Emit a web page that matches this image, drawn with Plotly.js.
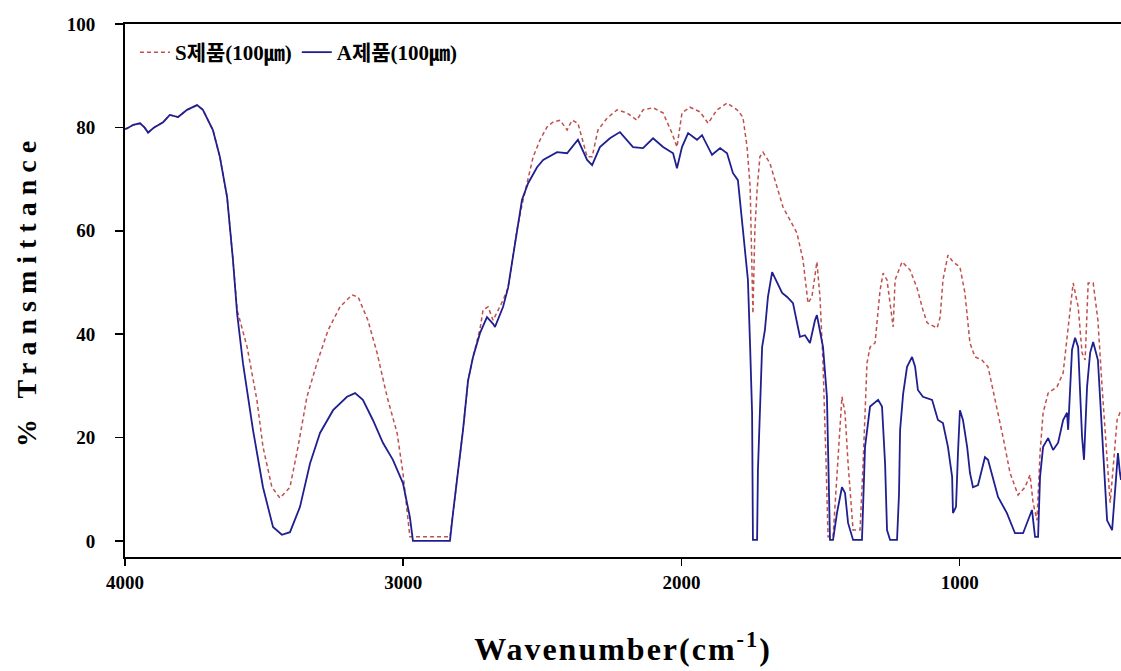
<!DOCTYPE html>
<html>
<head>
<meta charset="utf-8">
<script src="https://cdn.plot.ly/plotly-3.0.1.min.js"></script>
<style>
  html, body { margin: 0; padding: 0; background: #fff; }
  #chart { width: 1121px; height: 671px; }
  .ytitle { letter-spacing: 7px; }
  .xtitle { letter-spacing: 2px; }
</style>
</head>
<body>
<div id="chart"></div>
<script>
// Series A (blue, solid): wavenumber (cm-1) and % transmittance
const waveA = [4000,3993,3970,3946,3930,3917,3895,3863,3839,3809,3777,3741,3720,3684,3659,3633,3612,3597,3576,3540,3504,3468,3436,3407,3371,3335,3299,3252,3202,3173,3145,3109,3073,3037,3001,2976,2965,2832,2821,2785,2767,2749,2724,2699,2677,2670,2641,2623,2609,2591,2573,2551,2519,2497,2447,2411,2372,2339,2321,2293,2257,2221,2174,2138,2102,2066,2030,2016,1998,1976,1944,1926,1890,1861,1836,1815,1797,1779,1764,1761,1753,1746,1743,1728,1725,1710,1700,1689,1674,1656,1638,1620,1599,1574,1556,1538,1520,1513,1502,1491,1477,1473,1466,1455,1441,1423,1412,1401,1383,1351,1340,1322,1293,1279,1268,1261,1250,1225,1218,1214,1203,1189,1171,1160,1150,1132,1099,1078,1060,1042,1027,1024,1013,1006,999,988,973,963,952,934,909,898,880,862,830,801,772,754,740,729,718,711,700,682,664,646,628,614,610,596,585,574,560,553,542,531,520,503,488,470,452,441,431,424,420];
const transA = [79.7,79.8,80.5,80.8,80,79,80,81,82.4,82,83.4,84.3,83.4,79.5,74.3,66.5,54.4,44,34.4,21.5,10.4,2.7,1.2,1.7,6.6,15,20.9,25.3,27.9,28.6,27.3,23.4,19,15.7,11.2,4.6,0,0,5.4,21.5,31,35.6,40.2,43.3,42,41.4,45.3,49,53.8,60.2,66,69.2,72.3,73.7,75.2,75,77.6,73.7,72.7,76.2,77.9,79.1,76.2,76,77.9,76.2,75,72.1,76.2,78.9,77.6,78.5,74.7,76,75,71.2,69.8,60.2,51,50.5,37.5,24.8,0.2,0.2,13.7,37.5,40.8,47.2,52,49.9,48,47.2,46,39.5,39.8,38.3,42.7,43.7,40.8,37.5,27.9,15,0.2,0.2,5.4,10.4,9.3,3.5,0.2,0.2,18.2,26,27.3,26,15,2.1,0.2,0.2,9,21.5,28.5,33.7,35.6,33.7,29.2,27.9,27.3,23.4,22.8,18.2,12.4,5.4,6.6,17,25.3,23.4,18.2,13.2,10.4,10.8,16.2,15.7,11.8,8.5,5.4,1.5,1.5,4,6,0.8,0.8,12.4,18.2,19.9,17.6,19,23.4,24.8,21.5,37,39.3,37.5,20.1,15.7,29.8,36.4,38.5,35,20.9,4,2.1,10.4,17,13.2,11.8];

// Series S (red, dashed)
const waveS = [4000,3993,3970,3946,3930,3917,3895,3863,3839,3809,3777,3741,3720,3684,3659,3633,3612,3597,3561,3526,3504,3472,3443,3407,3378,3346,3310,3270,3227,3184,3162,3127,3094,3058,3022,3001,2976,2832,2821,2785,2767,2749,2724,2713,2695,2677,2641,2623,2609,2591,2573,2551,2533,2508,2483,2462,2436,2411,2393,2372,2357,2339,2321,2300,2267,2231,2196,2160,2138,2102,2066,2034,2016,1998,1969,1933,1904,1872,1836,1800,1779,1764,1753,1746,1743,1736,1728,1718,1707,1682,1656,1635,1610,1585,1563,1545,1531,1513,1502,1491,1480,1473,1455,1441,1423,1412,1401,1383,1358,1347,1333,1322,1304,1286,1275,1261,1250,1239,1232,1207,1178,1153,1132,1117,1081,1070,1060,1042,1024,999,981,963,945,920,898,866,844,819,790,765,747,736,722,711,700,682,650,628,614,592,574,560,549,538,520,503,488,470,459,449,434,424,420];
const transS = [79.7,79.8,80.5,80.8,80,79,80,81,82.4,82,83.4,84.3,83.4,79.5,74.3,66.5,54.4,44.7,37.5,27.3,18.2,10.4,8.3,10.4,18.2,27.9,34.4,40.8,45.3,47.6,47.2,42.7,36.4,27.9,20.9,13.2,0.8,0.8,5.4,21.5,31,35.6,41,44.7,45.3,42.7,46.6,49,53.8,60.2,65,69.8,74.3,77.6,80.1,81,81.4,79.5,81.4,80.8,77.9,74.3,74.3,79.5,81.8,83.4,82.8,81.4,83.4,83.8,82.8,78.9,76.2,82.8,83.9,83,80.8,83.4,84.7,83.4,82,76.2,68.5,50.5,44,60.2,67.9,74.3,75.2,73.1,68.5,64.6,62.1,59.6,54.4,46,47.2,54,47.2,34.4,15,0.8,0.8,13.7,27.9,24.8,15,2.1,2.1,15,34.4,37.5,38.3,48.5,51.8,50.5,46,41.4,50.5,54,52.4,48.9,44.7,42.2,41.2,43.3,50.5,55.3,54,53,48,38.3,35.6,35,33.7,26,20.1,13.2,8.9,10.4,12.8,7.4,4,17,24.8,28.6,29.8,32.5,39.5,49.9,45.3,36.4,35,49.9,49.9,42.7,29.8,17,7.4,13.7,23.4,24.8,25];

const nameS = 'S제품(100㎛)';
const nameA = 'A제품(100㎛)';
const xTicks = [4000, 3000, 2000, 1000];
const yTicks = [0, 20, 40, 60, 80, 100];

const serif = 'Liberation Serif, Times New Roman, Noto Sans CJK KR, serif';

const traces = [
  {
    x: waveS, y: transS, name: nameS, type: 'scatter', mode: 'lines',
    line: { color: '#c0504d', width: 1.5, dash: '4px,3px' }
  },
  {
    x: waveA, y: transA, name: nameA, type: 'scatter', mode: 'lines',
    line: { color: '#1f1f8f', width: 1.8 }
  }
];

const layout = {
  width: 1121, height: 671,
  margin: { l: 125, r: 0, t: 24, b: 114 },
  paper_bgcolor: '#ffffff', plot_bgcolor: '#ffffff',
  showlegend: true,
  legend: {
    orientation: 'h', x: 0.01, y: 0.985, xanchor: 'left', yanchor: 'top',
    font: { family: serif, size: 21, color: '#000', weight: 'bold' },
    bgcolor: 'rgba(0,0,0,0)', itemwidth: 30, tracegroupgap: 0
  },
  xaxis: {
    range: [4000, 420], autorange: false,
    tickvals: xTicks, ticktext: xTicks.map(String),
    ticks: 'outside', ticklen: 7, tickwidth: 1.5, tickcolor: '#000',
    showline: true, linecolor: '#000', linewidth: 2, mirror: true,
    showgrid: false, zeroline: false,
    tickfont: { family: serif, size: 19, color: '#000', weight: 'bold' },
    title: { text: 'Wavenumber(cm<sup>-1</sup>)', standoff: 46,
             font: { family: serif, size: 32, color: '#000', weight: 'bold' } }
  },
  yaxis: {
    range: [-3.1, 100], autorange: false,
    tickvals: yTicks, ticktext: yTicks.map(String),
    ticks: 'outside', ticklen: 8, tickwidth: 1.5, tickcolor: '#000',
    ticklabelstandoff: 16,
    showline: true, linecolor: '#000', linewidth: 2, mirror: false,
    showgrid: false, zeroline: false,
    tickfont: { family: serif, size: 19, color: '#000', weight: 'bold' },
    title: { text: '% Transmittance', standoff: 22,
             font: { family: serif, size: 28, color: '#000', weight: 'bold' } }
  }
};

Plotly.newPlot('chart', traces, layout, { displayModeBar: false, staticPlot: true });
</script>
</body>
</html>
